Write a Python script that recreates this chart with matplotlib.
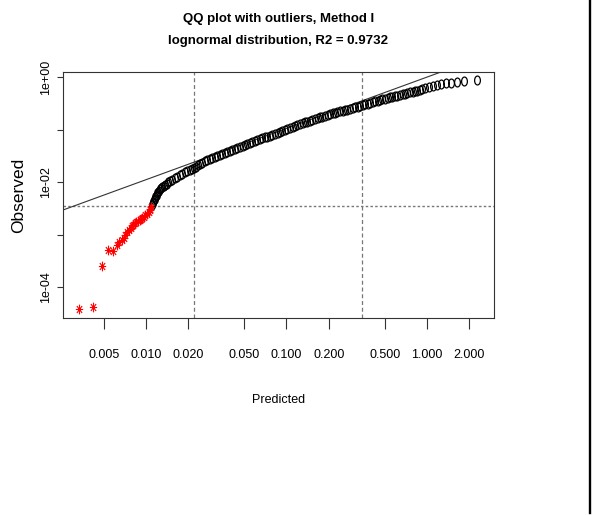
import numpy as np
import matplotlib
matplotlib.use('Agg')
import matplotlib.pyplot as plt
from matplotlib import font_manager
from matplotlib.path import Path
from matplotlib.transforms import Affine2D
from matplotlib.lines import Line2D

# values, stored as log10
log10_pred_ok = [
    -1.957, -1.952, -1.948, -1.943, -1.938, -1.934, -1.929, -1.924, -1.920,
    -1.915, -1.908, -1.900, -1.893, -1.884, -1.874, -1.865, -1.853, -1.841,
    -1.829, -1.812, -1.796, -1.779, -1.760, -1.741, -1.722, -1.706, -1.690,
    -1.674, -1.658, -1.644, -1.630, -1.616, -1.599, -1.583, -1.566, -1.547,
    -1.528, -1.509, -1.492, -1.475, -1.457, -1.440, -1.423, -1.405, -1.386,
    -1.368, -1.349, -1.331, -1.313, -1.296, -1.278, -1.260, -1.242, -1.225,
    -1.207, -1.189, -1.171, -1.153, -1.136, -1.118, -1.100, -1.082, -1.064,
    -1.046, -1.029, -1.011, -0.993, -0.975, -0.957, -0.940, -0.922, -0.904,
    -0.886, -0.868, -0.851, -0.833, -0.815, -0.797, -0.779, -0.761, -0.744,
    -0.726, -0.708, -0.690, -0.672, -0.655, -0.637, -0.619, -0.601, -0.584,
    -0.566, -0.548, -0.530, -0.511, -0.493, -0.474, -0.456, -0.439, -0.421,
    -0.404, -0.387, -0.369, -0.352, -0.335, -0.317, -0.299, -0.281, -0.264,
    -0.246, -0.228, -0.210, -0.192, -0.174, -0.157, -0.139, -0.121, -0.103,
    -0.086, -0.068, -0.050, -0.032, -0.014, 0.014, 0.043, 0.071, 0.100,
    0.135, 0.171, 0.214, 0.263, 0.356]
log10_obs_ok = [
    -2.438, -2.406, -2.375, -2.343, -2.318, -2.292, -2.267, -2.241, -2.216,
    -2.190, -2.165, -2.139, -2.114, -2.095, -2.076, -2.057, -2.032, -2.006,
    -1.981, -1.956, -1.930, -1.905, -1.873, -1.842, -1.810, -1.791, -1.771,
    -1.752, -1.733, -1.708, -1.682, -1.657, -1.632, -1.606, -1.581, -1.562,
    -1.543, -1.524, -1.505, -1.486, -1.467, -1.448, -1.429, -1.410, -1.391,
    -1.371, -1.352, -1.333, -1.314, -1.295, -1.276, -1.257, -1.238, -1.219,
    -1.200, -1.181, -1.165, -1.149, -1.134, -1.118, -1.102, -1.086, -1.067,
    -1.048, -1.029, -1.009, -0.990, -0.971, -0.952, -0.933, -0.914, -0.895,
    -0.879, -0.863, -0.848, -0.832, -0.816, -0.800, -0.784, -0.768, -0.753,
    -0.737, -0.721, -0.705, -0.693, -0.681, -0.669, -0.657, -0.646, -0.634,
    -0.622, -0.610, -0.595, -0.579, -0.564, -0.548, -0.533, -0.519, -0.506,
    -0.492, -0.479, -0.465, -0.452, -0.438, -0.426, -0.414, -0.402, -0.390,
    -0.379, -0.367, -0.355, -0.343, -0.331, -0.319, -0.307, -0.295, -0.284,
    -0.272, -0.260, -0.248, -0.233, -0.219, -0.200, -0.177, -0.156, -0.139,
    -0.120, -0.107, -0.095, -0.082, -0.063]

log10_pred_out = [
    -2.477, -2.375, -2.313, -2.267, -2.233, -2.206, -2.192, -2.174, -2.160,
    -2.146, -2.132, -2.121, -2.110, -2.100, -2.089, -2.078, -2.068, -2.057,
    -2.046, -2.036, -2.025, -2.014, -2.004, -1.993, -1.982, -1.975, -1.968,
    -1.961]
log10_obs_out = [
    -4.419, -4.375, -3.600, -3.295, -3.305, -3.200, -3.143, -3.105, -3.057,
    -3.010, -2.952, -2.905, -2.867, -2.838, -2.810, -2.781, -2.762, -2.743,
    -2.724, -2.705, -2.686, -2.657, -2.629, -2.600, -2.562, -2.533, -2.505,
    -2.476]

qq_line_log10_intercept = -0.002
qq_line_slope = 0.977
vline_positions = [0.0220, 0.3446]
hline_position = 0.00349

x_ticks = [0.005, 0.01, 0.02, 0.05, 0.1, 0.2, 0.5, 1.0, 2.0]
x_tick_labels = ['0.005', '0.010', '0.020', '0.050', '0.100', '0.200',
                 '0.500', '1.000', '2.000']
y_ticks = [1e-4, 1e-3, 1e-2, 1e-1, 1e0]
y_tick_labels = ['1e-04', '', '1e-02', '', '1e+00']

title_lines = ['QQ plot with outliers, Method I',
               'lognormal distribution, R2 = 0.9732']


def has_font(name):
    try:
        font_manager.findfont(name, fallback_to_default=False)
        return True
    except ValueError:
        return False


if has_font('Liberation Sans Narrow'):
    narrow = ['Liberation Sans Narrow', 'DejaVu Sans']
    title_size, tick_size, xlab_size = 10.5, 10, 10
else:
    narrow = ['Liberation Sans', 'DejaVu Sans']
    title_size, tick_size, xlab_size = 9.5, 9, 9
regular = ['Liberation Sans', 'DejaVu Sans']

# R-like markers, squeezed horizontally like the reference
ring = Path.unit_circle().transformed(Affine2D().scale(0.65, 1.0))
w, d = 0.75, 0.72
star = Path([(-w, 0), (w, 0), (0, -1), (0, 1),
             (-w * d, -d), (w * d, d), (-w * d, d), (w * d, -d)],
            [Path.MOVETO, Path.LINETO] * 4)

W, H = 599, 515
fig = plt.figure(figsize=(W / 100, H / 100), dpi=100)
ax = fig.add_axes([63 / W, 1 - 318 / H, (494 - 63) / W, (318 - 72) / H])
ax.set_xscale('log')
ax.set_yscale('log')
ax.set_xlim(0.002566, 2.999)
ax.set_ylim(2.57e-5, 1.245)

for v in vline_positions:
    ax.axvline(v, color='#777777', lw=0.9, dashes=(3.2, 2.2), zorder=1)
ax.axhline(hline_position, color='#777777', lw=1.0, dashes=(1.8, 1.6), zorder=1)

xs = np.array(ax.get_xlim())
ax.plot(xs, 10 ** qq_line_log10_intercept * xs ** qq_line_slope,
        color='#333333', lw=0.8, zorder=2)

ax.plot(10 ** np.array(log10_pred_ok), 10 ** np.array(log10_obs_ok),
        ls='none', marker=ring, ms=6.4, mfc='none', mec='black', mew=0.9,
        zorder=3)
ax.plot(10 ** np.array(log10_pred_out), 10 ** np.array(log10_obs_out),
        ls='none', marker=star, ms=7, mfc='none', mec='#ff0000', mew=0.8,
        zorder=4)

ax.minorticks_off()
ax.set_xticks(x_ticks)
ax.set_xticklabels(x_tick_labels, fontfamily=narrow, fontsize=tick_size)
ax.set_yticks(y_ticks)
ax.set_yticklabels(y_tick_labels, fontfamily=regular, fontsize=9,
                   rotation=90, va='center')
ax.tick_params(axis='x', length=8, width=0.8, pad=14, color='#333333')
ax.tick_params(axis='y', length=4.3, width=0.8, pad=3.5, color='#333333')
for s in ax.spines.values():
    s.set_color('#333333')
    s.set_linewidth(0.8)

ax.set_xlabel('Predicted', fontfamily=narrow, fontsize=xlab_size, labelpad=24)
ax.set_ylabel('Observed', fontfamily=regular, fontsize=12.5, labelpad=10)

fig.text(278.5 / W, 1 - 22 / H, title_lines[0], ha='center', va='baseline',
         fontfamily=narrow, fontsize=title_size, fontweight='bold')
fig.text(278.5 / W, 1 - 44 / H, title_lines[1], ha='center', va='baseline',
         fontfamily=narrow, fontsize=title_size, fontweight='bold')

fig.add_artist(Line2D([589.5 / W] * 2, [1 - 513 / H, 1],
                      transform=fig.transFigure, color='black', lw=1.7))

fig.savefig('out.png', dpi=100)
